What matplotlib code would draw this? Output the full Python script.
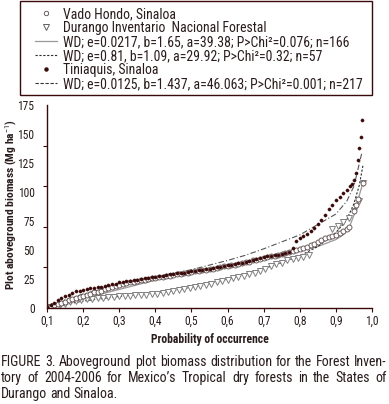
import matplotlib
matplotlib.use('Agg')
import matplotlib.pyplot as plt
from matplotlib import font_manager as fm
from matplotlib.lines import Line2D
from matplotlib.patches import Rectangle

# ---------------- data ----------------
# Tiniaquis, Sinaloa (small dark dots)
p_ti = [0.10, 0.11, 0.12, 0.13, 0.14, 0.15, 0.16, 0.17, 0.18, 0.19,
        0.20, 0.21, 0.22, 0.23, 0.24, 0.25, 0.26, 0.27, 0.28, 0.29,
        0.30, 0.31, 0.32, 0.33, 0.34, 0.35, 0.36, 0.37, 0.38, 0.39,
        0.40, 0.41, 0.42, 0.43, 0.44, 0.45, 0.46, 0.47, 0.48, 0.49,
        0.50, 0.51, 0.52, 0.53, 0.54, 0.55, 0.56, 0.57, 0.58, 0.59,
        0.60, 0.61, 0.62, 0.63, 0.64, 0.65, 0.66, 0.67, 0.68, 0.69,
        0.70, 0.71, 0.72, 0.73, 0.74, 0.75, 0.76, 0.77, 0.78, 0.79,
        0.80, 0.81, 0.82, 0.83, 0.84, 0.85, 0.86, 0.87, 0.88, 0.89,
        0.90, 0.91, 0.92, 0.93, 0.94, 0.945, 0.95, 0.955, 0.96, 0.965,
        0.970, 0.973]
v_ti = [0.5, 2.5, 4.5, 6.5, 8.5, 10, 11.5, 13, 14.5, 15,
        15.5, 16, 17, 17.5, 18, 18.5, 19, 19.5, 20.5, 21,
        22, 22.5, 23, 23.5, 24, 24.5, 25, 25.5, 26, 26.5,
        27, 27.5, 28, 28.5, 29, 29.5, 30, 30.5, 30.5, 31,
        31.5, 32, 32.5, 33, 33.5, 34, 34.5, 35, 35.5, 36,
        37, 37.5, 38, 38.5, 39, 40, 40.5, 41, 42, 43,
        44, 44.5, 45, 45.5, 46, 46.5, 47, 48, 52, 58,
        60, 62, 64, 66, 69, 72, 76, 80, 85, 89,
        93, 96, 99, 102, 105, 107, 110, 116, 128, 138,
        147, 162]

# Vado Hondo, Sinaloa (open circles)
p_vh = [0.10, 0.11, 0.12, 0.13, 0.14, 0.15, 0.16, 0.17, 0.18, 0.19,
        0.20, 0.21, 0.22, 0.23, 0.24, 0.25, 0.26, 0.27, 0.28, 0.29,
        0.30, 0.31, 0.32, 0.33, 0.34, 0.35, 0.36, 0.37, 0.38, 0.39,
        0.40, 0.41, 0.42, 0.43, 0.44, 0.45, 0.46, 0.47, 0.48, 0.49,
        0.50, 0.51, 0.52, 0.53, 0.54, 0.55, 0.56, 0.57, 0.58, 0.59,
        0.60, 0.61, 0.62, 0.63, 0.64, 0.65, 0.66, 0.67, 0.68, 0.69,
        0.70, 0.71, 0.72, 0.73, 0.74, 0.75, 0.76, 0.77, 0.78, 0.79,
        0.80, 0.81, 0.82, 0.83, 0.84, 0.85, 0.86, 0.87, 0.88, 0.89,
        0.90, 0.91, 0.92, 0.93, 0.935, 0.95, 0.955, 0.96, 0.975]
v_vh = [0.5, 1.5, 2.5, 3.5, 4.5, 5.5, 6.5, 7.5, 8.5, 9.5,
        10.5, 11.5, 12.5, 13.5, 14, 15, 16, 17, 18, 19,
        20, 20.5, 21.5, 22, 22.5, 23.5, 24, 24.5, 25, 25.5,
        26, 26.5, 27, 27.5, 28, 28.5, 29, 29.5, 30, 30.5,
        31, 31.5, 32, 32.5, 33, 33.5, 34, 34.5, 35, 36,
        36.5, 37, 37.5, 38, 39, 39.5, 40, 41, 41.5, 42.5,
        43, 44, 44.5, 45, 46, 46.5, 47, 48, 49, 50,
        51, 52, 53, 54, 55.5, 57, 58.5, 60, 61, 62,
        63, 64.5, 66, 68, 70, 84, 89, 94, 108]

# Durango Inventario Nacional Forestal (open triangles)
p_du = [0.105, 0.12, 0.135, 0.15, 0.165, 0.18, 0.195, 0.21, 0.225, 0.24,
        0.255, 0.27, 0.285, 0.30, 0.315, 0.33, 0.345, 0.36, 0.375, 0.39,
        0.405, 0.42, 0.435, 0.45, 0.465, 0.48, 0.495, 0.51, 0.525, 0.54,
        0.555, 0.57, 0.585, 0.60, 0.615, 0.63, 0.645, 0.66, 0.675, 0.69,
        0.705, 0.72, 0.735, 0.75, 0.765, 0.78, 0.795, 0.81, 0.825, 0.89,
        0.905, 0.92, 0.935, 0.95, 0.965, 0.975]
v_du = [0.5, 1.5, 2.5, 3.5, 5, 6, 6.5, 7.5, 8, 8.5,
        9, 9.5, 9.5, 10, 10, 10.5, 11, 11, 11.5, 12,
        12.5, 13, 14, 15, 15.5, 16, 17, 18, 19, 20,
        21, 22, 23, 24.5, 25.5, 26.5, 27.5, 29, 30, 32,
        34, 36, 38, 39, 41, 42, 43, 44, 46, 68,
        71, 74, 78, 84, 92, 108]

# Fitted Weibull curves
p_fit_vh = [0.10, 0.15, 0.20, 0.25, 0.30, 0.35, 0.40, 0.45, 0.50, 0.55,
            0.60, 0.65, 0.70, 0.75, 0.80, 0.85, 0.90, 0.92, 0.935, 0.95,
            0.96, 0.975]
v_fit_vh = [0, 4, 8, 12, 16, 20, 24, 27, 30, 33,
            36, 39, 42, 45, 49, 53, 59, 63, 68, 80,
            92, 108]
p_fit_du = [0.10, 0.15, 0.20, 0.25, 0.30, 0.35, 0.40, 0.45, 0.50, 0.55,
            0.60, 0.65, 0.70, 0.75, 0.80, 0.85, 0.90, 0.93, 0.95, 0.965,
            0.975]
v_fit_du = [0, 3, 6, 8, 10, 11.5, 13, 15, 18, 21,
            25, 29, 34, 39, 45, 53, 65, 76, 90, 106,
            123]
p_fit_ti = [0.10, 0.15, 0.20, 0.25, 0.30, 0.35, 0.40, 0.45, 0.50, 0.55,
            0.60, 0.65, 0.70, 0.75, 0.80, 0.85, 0.90, 0.93, 0.95, 0.96,
            0.972]
v_fit_ti = [0, 7, 12, 16, 20, 24, 27, 30, 33, 37,
            41, 45.5, 51, 57, 63, 72, 81, 92, 105, 118,
            134]

x_ticks = [0.1, 0.2, 0.3, 0.4, 0.5, 0.6, 0.7, 0.8, 0.9, 1.0]
x_tick_labels = ['0,1', '0,2', '0,3', '0,4', '0,5', '0,6', '0,7', '0,8', '0,9', '1,0']
y_label_values = [0, 25, 50, 75, 100, 125, 150, 175]
y_tick_marks = [0, 35, 70, 105, 140, 175]

legend_labels = [
    'Vado Hondo, Sinaloa',
    'Durango Inventario  Nacional Forestal',
    'WD; e=0.0217, b=1.65, a=39.38; P>Chi\u00b2=0.076; n=166',
    'WD; e=0.81, b=1.09, a=29.92; P>Chi\u00b2=0.32; n=57',
    'Tiniaquis, Sinaloa',
    'WD; e=0.0125, b=1.437, a=46.063; P>Chi\u00b2=0.001; n=217',
]
x_title = 'Probability of occurrence'
y_title = 'Plot aboveground biomass (Mg ha$^{-1}$)'
caption_lines = [
    'FIGURE 3. Aboveground plot biomass distribution for the Forest Inven-',
    'tory of 2004-2006 for Mexico\u2019s Tropical dry forests in the States of',
    'Durango and Sinaloa.',
]

# ---------------- style ----------------
names = {f.name for f in fm.fontManager.ttflist}
FONT = 'DejaVu Sans'
for cand in ['Roboto Condensed', 'Archivo Narrow', 'Liberation Sans Narrow',
             'Barlow Semi Condensed', 'Asap Condensed']:
    if cand in names:
        FONT = cand
        break
plt.rcParams['font.family'] = [FONT, 'DejaVu Sans']
plt.rcParams['mathtext.fontset'] = 'custom'
plt.rcParams['mathtext.rm'] = FONT
plt.rcParams['mathtext.bf'] = FONT + ':bold'
MAROON = '#3a0a0a'
TXT = '#2a1c1c'

W, H = 389, 404
fig = plt.figure(figsize=(W / 100, H / 100), dpi=100)
renderer = fig.canvas.get_renderer()


def fx(x):
    return x / W


def fy(y):
    return 1 - y / H


def text_w(s, size, weight='normal'):
    t = fig.text(0, 0, s, fontsize=size, fontweight=weight)
    bb = t.get_window_extent(renderer)
    t.remove()
    return bb.width, bb.height


def fit(s, target, weight='normal'):
    w, _ = text_w(s, 10, weight)
    return 10 * target / w


ax = fig.add_axes([fx(47), fy(308), (372 - 47) / W, (308 - 105) / H])

ax.plot(p_fit_vh, v_fit_vh, color='#9a9a9a', lw=0.9, ls='-')
ax.plot(p_fit_du, v_fit_du, color='#2a2a2a', lw=0.8, ls=(0, (2, 1.5)))
ax.plot(p_fit_ti, v_fit_ti, color='#555555', lw=0.8, ls=(0, (5, 2, 1, 2)))
ax.plot(p_du, v_du, ls='none', marker='v', ms=4.5, mfc='white',
        mec='#808080', mew=0.7)
ax.plot(p_vh, v_vh, ls='none', marker='o', ms=3.6, mfc='white',
        mec='#5a4848', mew=0.6)
ax.plot(p_ti, v_ti, ls='none', marker='o', ms=2.3, mfc=MAROON,
        mec=MAROON, mew=0.3)

ax.set_xlim(0.1, 1.0)
ax.set_ylim(0, 175)
for s in ['top', 'right']:
    ax.spines[s].set_visible(False)
for s in ['left', 'bottom']:
    ax.spines[s].set_color(MAROON)
    ax.spines[s].set_linewidth(1.0)

tick_fs = fit('175', 17)
ax.set_xticks(x_ticks)
ax.set_xticklabels(x_tick_labels, fontsize=tick_fs, color=TXT)
ax.tick_params(axis='x', direction='out', length=3, width=0.8, color=MAROON, pad=2)
ax.set_yticks(y_label_values)
ax.set_yticklabels([str(v) for v in y_label_values], fontsize=tick_fs, color=TXT)
ax.tick_params(axis='y', which='major', length=0, pad=9)
ax.set_yticks(y_tick_marks, minor=True)
ax.tick_params(axis='y', which='minor', direction='out', length=3, width=0.8,
               color=MAROON)

fig.text(fx(210), fy(339), x_title, ha='center', va='center',
         fontsize=fit(x_title, 118, 'bold'), fontweight='bold', color=TXT)
fig.text(fx(11), fy(205), y_title, ha='center', va='center', rotation=90,
         fontsize=fit(y_title, 170, 'bold'), fontweight='bold', color=TXT)

# legend
fig.patches.append(Rectangle((fx(20), fy(95)), (372 - 20) / W, (95 - 0.5) / H,
                             transform=fig.transFigure, fill=False,
                             edgecolor=MAROON, lw=1.0))
handles = [
    Line2D([], [], ls='none', marker='o', ms=3.2, mfc='white', mec='#5a4848', mew=0.6),
    Line2D([], [], ls='none', marker='v', ms=4.5, mfc='white', mec='#606060', mew=0.7),
    Line2D([], [], color='#9a9a9a', lw=0.9, ls='-'),
    Line2D([], [], color='#2a2a2a', lw=0.8, ls=(0, (2, 1.5))),
    Line2D([], [], ls='none', marker='o', ms=2.2, mfc=MAROON, mec=MAROON),
    Line2D([], [], color='#333333', lw=0.8, ls=(0, (3, 1.5))),
]
leg_fs = fit(legend_labels[5], 299)
_, hh = text_w(legend_labels[5], leg_fs)
leg_px = leg_fs * 100 / 72
spacing = max(0.0, (13.4 - hh) / leg_px)
leg = fig.legend(handles, legend_labels, loc='upper left',
                 bbox_to_anchor=(fx(35), fy(14 - hh / 2)), frameon=False,
                 fontsize=leg_fs, handlelength=22 / leg_px,
                 handletextpad=6 / leg_px, labelspacing=spacing,
                 borderpad=0, borderaxespad=0)
for t in leg.get_texts():
    t.set_color(TXT)

# caption (justified)
cap_fs = fit(caption_lines[0], 380)
sp_w = text_w('a a', cap_fs)[0] - text_w('aa', cap_fs)[0]
cap_y = [362, 378, 394]
for i, line in enumerate(caption_lines):
    words = line.split(' ')
    widths = [text_w(w, cap_fs)[0] for w in words]
    if i < len(caption_lines) - 1:
        gap = (387 - 1 - sum(widths)) / (len(words) - 1)
    else:
        gap = sp_w
    x = 1
    for w, ww in zip(words, widths):
        fig.text(fx(x), fy(cap_y[i]), w, fontsize=cap_fs, color=TXT,
                 va='center', ha='left')
        x += ww + gap

fig.savefig('out.png', dpi=100)
